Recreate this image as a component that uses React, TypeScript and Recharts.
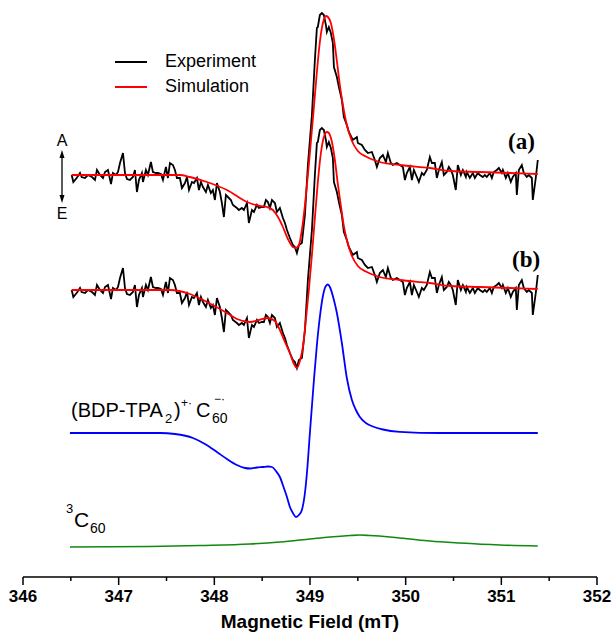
import React from "react";
import { LineChart, Line, XAxis, YAxis, Customized } from "recharts";

// [field (mT), signal relative to its own baseline]
const experiment: [number, number][] = [
  [346.509, 0], [346.526, -7], [346.561, -3], [346.596, 2], [346.613, -2], [346.648, -3],
  [346.679, 0], [346.721, -2], [346.752, -5], [346.773, 5], [346.805, 0], [346.836, -3],
  [346.857, 3], [346.888, 5], [346.92, -9], [346.94, 2], [346.972, 0], [346.993, 3],
  [347.014, 12], [347.045, 22], [347.066, 2], [347.087, -4], [347.118, -5], [347.149, -2],
  [347.17, 5], [347.191, -17], [347.212, -5], [347.243, 2], [347.254, -7], [347.285, 5],
  [347.306, 0], [347.337, 13], [347.358, 3], [347.39, 2], [347.411, 2], [347.442, 1],
  [347.463, -5], [347.494, 8], [347.515, -3], [347.536, 12], [347.567, 10], [347.588, 5],
  [347.609, -3], [347.64, -3], [347.661, -13], [347.693, -8], [347.714, -2], [347.735, -15],
  [347.766, -7], [347.787, -8], [347.818, -3], [347.839, -15], [347.86, -7], [347.881, -12],
  [347.912, -17], [347.933, -10], [347.964, -18], [347.985, -15], [348.006, -25], [348.027, -8],
  [348.058, -17], [348.079, -28], [348.1, -42], [348.121, -20], [348.142, -22], [348.173, -25],
  [348.194, -30], [348.236, -33], [348.257, -35], [348.288, -33], [348.309, -35], [348.341, -28],
  [348.361, -48], [348.393, -35], [348.414, -37], [348.445, -30], [348.466, -33], [348.497, -32],
  [348.518, -32], [348.539, -25], [348.56, -27], [348.581, -33], [348.602, -25], [348.633, -28],
  [348.654, -37], [348.685, -33], [348.717, -43], [348.738, -48], [348.759, -55], [348.79, -63],
  [348.821, -70], [348.842, -72], [348.863, -78], [348.884, -70], [348.915, -68], [348.947, -40],
  [348.978, 10], [349.02, 60], [349.051, 115], [349.072, 147], [349.082, 148], [349.103, 160],
  [349.124, 162], [349.145, 160], [349.166, 150], [349.176, 143], [349.197, 148], [349.218, 142],
  [349.239, 132], [349.25, 108], [349.281, 98], [349.302, 88], [349.333, 75], [349.354, 58],
  [349.385, 50], [349.406, 43], [349.448, 35], [349.49, 38], [349.5, 32], [349.542, 30],
  [349.574, 25], [349.605, 22], [349.647, 23], [349.678, 15], [349.699, 8], [349.73, 17],
  [349.762, 20], [349.793, 13], [349.814, 22], [349.845, 12], [349.866, 10], [349.908, 12],
  [349.939, 10], [349.971, 8], [349.992, -5], [350.012, 2], [350.044, 8], [350.065, -5],
  [350.086, 5], [350.117, -2], [350.138, -7], [350.169, 2], [350.19, 0], [350.221, 5],
  [350.253, 18], [350.274, 12], [350.305, 12], [350.326, -3], [350.347, 5], [350.378, 13],
  [350.399, 0], [350.43, 3], [350.451, 8], [350.472, 5], [350.493, 0], [350.524, -15],
  [350.545, 10], [350.577, 0], [350.598, 5], [350.629, -2], [350.639, 3], [350.671, -3],
  [350.702, 2], [350.723, -3], [350.754, 2], [350.775, 0], [350.807, -2], [350.827, 0],
  [350.848, -2], [350.88, 2], [350.901, -3], [350.921, 3], [350.953, 5], [350.974, 7],
  [351.005, 2], [351.016, 5], [351.047, -3], [351.068, 2], [351.099, -7], [351.12, -2],
  [351.151, 2], [351.162, -20], [351.183, 5], [351.214, 10], [351.235, 2], [351.266, -2],
  [351.287, 0], [351.319, -3], [351.329, -25], [351.36, -3], [351.381, 15],
];

const simulationA: [number, number][] = [
  [346.509, 0], [347.64, 0], [347.745, -2], [347.923, -7], [348.132, -15], [348.341, -27],
  [348.476, -31], [348.55, -32], [348.612, -35], [348.665, -42], [348.717, -52], [348.769, -64],
  [348.821, -72], [348.853, -73], [348.884, -70], [348.915, -55], [348.947, -30], [348.978, 0],
  [349.009, 33], [349.041, 68], [349.072, 103], [349.103, 133], [349.135, 152], [349.166, 159],
  [349.187, 158], [349.218, 152], [349.25, 136], [349.281, 114], [349.312, 90], [349.344, 70],
  [349.385, 50], [349.438, 34], [349.5, 24], [349.594, 18], [349.73, 13], [349.939, 10],
  [350.253, 7], [350.472, 4], [350.775, 3], [351.089, 2], [351.381, 1],
];

const simulationB: [number, number][] = [
  [346.509, 0], [347.536, 0], [347.745, -4], [347.923, -12], [348.132, -23], [348.236, -29],
  [348.372, -32], [348.466, -30], [348.56, -28], [348.633, -31], [348.685, -40], [348.738, -52],
  [348.79, -63], [348.832, -74], [348.863, -78], [348.894, -71], [348.926, -57], [348.957, -30],
  [348.988, 0], [349.02, 35], [349.051, 72], [349.082, 108], [349.114, 137], [349.145, 153],
  [349.176, 158], [349.197, 157], [349.229, 148], [349.26, 130], [349.291, 106], [349.323, 84],
  [349.354, 64], [349.385, 50], [349.438, 34], [349.5, 24], [349.594, 18], [349.73, 13],
  [349.939, 10], [350.253, 7], [350.472, 4], [350.775, 3], [351.089, 2], [351.381, 1],
];

const radicalPair: [number, number][] = [
  [346.491, 0], [347.432, 0], [347.588, -1], [347.776, -5], [347.902, -11], [348.027, -19],
  [348.132, -26], [348.236, -32], [348.32, -35], [348.372, -35.5], [348.445, -34.5], [348.508, -34],
  [348.56, -33.5], [348.602, -34], [348.644, -38], [348.685, -44], [348.727, -55], [348.759, -64],
  [348.79, -74], [348.821, -80], [348.853, -84], [348.884, -82], [348.915, -77], [348.947, -60],
  [348.968, -40], [348.999, 0], [349.041, 53], [349.072, 88], [349.103, 116], [349.135, 137],
  [349.166, 147], [349.187, 148.5], [349.208, 146], [349.25, 133], [349.281, 120], [349.333, 90],
  [349.385, 55], [349.438, 33], [349.48, 23], [349.521, 16], [349.584, 10], [349.657, 6.5],
  [349.762, 3.5], [349.939, 1.2], [350.357, 0], [351.381, 0],
];

const tripletC60: [number, number][] = [
  [346.491, 0], [347.327, 0.5], [347.85, 1.5], [348.372, 3], [348.685, 5], [348.999, 8],
  [349.208, 10], [349.417, 11.5], [349.521, 12], [349.626, 11.5], [349.835, 10], [350.044, 8],
  [350.253, 6], [350.566, 4], [350.984, 2], [351.381, 1],
];

// vertical offsets of the stacked traces (a.u.)
const offsetA = 402;
const offsetB = 287;
const offsetRadical = 144;
const offsetTriplet = 30;

const fieldTicks = [346, 346.5, 347, 347.5, 348, 348.5, 349, 349.5, 350, 350.5, 351, 351.5, 352];

const toPoints = (arr: [number, number][], base: number) =>
  arr.map(([f, v]) => ({ f, v: v + base }));

const sans = "'Liberation Sans', Arial, sans-serif";
const serif = "'Liberation Serif', 'Times New Roman', serif";

function FieldTick(props: any) {
  const { x, y, payload } = props;
  const major = Number.isInteger(payload.value);
  const axisY = y - 13;
  return (
    <g>
      <line x1={x} x2={x} y1={axisY} y2={axisY + (major ? 8 : 4)} stroke="#000" strokeWidth={1.5} />
      {major && (
        <text x={x} y={y} dy="0.71em" textAnchor="middle" fontFamily={sans} fontWeight="bold" fontSize={17} fill="#000">
          {payload.value}
        </text>
      )}
    </g>
  );
}

function Annotations() {
  return (
    <g>
      {/* legend */}
      <line x1={115} x2={147} y1={62} y2={62} stroke="#000" strokeWidth={2} />
      <text x={165} y={67} fontFamily={sans} fontSize={18} fill="#000">Experiment</text>
      <line x1={115} x2={147} y1={87} y2={87} stroke="#ff0000" strokeWidth={2} />
      <text x={165} y={92} fontFamily={sans} fontSize={18} fill="#000">Simulation</text>

      {/* trace labels */}
      <text x={508} y={149} fontFamily={serif} fontWeight="bold" fontSize={23} fill="#000">(a)</text>
      <text x={512} y={267} fontFamily={serif} fontWeight="bold" fontSize={23} fill="#000">(b)</text>

      {/* absorption / emission arrow */}
      <text x={62} y={146} textAnchor="middle" fontFamily={sans} fontSize={16} fill="#000">A</text>
      <line x1={62} x2={62} y1={156} y2={197} stroke="#000" strokeWidth={1.3} />
      <polygon points="62,150 59.5,158 64.5,158" fill="#000" />
      <polygon points="62,203 59.5,195 64.5,195" fill="#000" />
      <text x={62} y={219} textAnchor="middle" fontFamily={sans} fontSize={16} fill="#000">E</text>

      {/* radical pair label */}
      <text fontFamily={sans} fill="#000">
        <tspan x={71} y={417} fontSize={20}>(BDP-TPA</tspan>
        <tspan x={165} y={423} fontSize={13}>2</tspan>
        <tspan x={174} y={417} fontSize={20}>)</tspan>
        <tspan x={181} y={407} fontSize={12}>+·</tspan>
        <tspan x={196} y={417} fontSize={20}>C</tspan>
        <tspan x={212} y={423} fontSize={14}>60</tspan>
        <tspan x={214} y={403} fontSize={12}>−·</tspan>
      </text>

      {/* triplet label */}
      <text fontFamily={sans} fill="#000">
        <tspan x={66} y={513} fontSize={13}>3</tspan>
        <tspan x={74} y={527} fontSize={21}>C</tspan>
        <tspan x={90} y={533} fontSize={14}>60</tspan>
      </text>

      {/* x axis title */}
      <text x={310} y={628} textAnchor="middle" fontFamily={sans} fontWeight="bold" fontSize={19} fill="#000">
        Magnetic Field (mT)
      </text>
    </g>
  );
}

export default function App() {
  return (
    <div style={{ position: "absolute", left: 0, top: 0, background: "#fff" }}>
      <LineChart width={615} height={633} margin={{ top: 10, right: 18, bottom: 0, left: 23 }}>
        <XAxis
          type="number"
          dataKey="f"
          domain={[346, 352]}
          ticks={fieldTicks}
          interval={0}
          height={56}
          tickSize={8}
          tickMargin={5}
          tickLine={false}
          axisLine={{ stroke: "#000", strokeWidth: 1.5 }}
          tick={<FieldTick />}
        />
        <YAxis type="number" domain={[0, 567]} hide />
        <Line data={toPoints(experiment, offsetA)} dataKey="v" type="linear" stroke="#000" strokeWidth={1.8} dot={false} isAnimationActive={false} />
        <Line data={toPoints(simulationA, offsetA)} dataKey="v" type="monotone" stroke="#ff0000" strokeWidth={1.8} dot={false} isAnimationActive={false} />
        <Line data={toPoints(experiment, offsetB)} dataKey="v" type="linear" stroke="#000" strokeWidth={1.8} dot={false} isAnimationActive={false} />
        <Line data={toPoints(simulationB, offsetB)} dataKey="v" type="monotone" stroke="#ff0000" strokeWidth={1.8} dot={false} isAnimationActive={false} />
        <Line data={toPoints(radicalPair, offsetRadical)} dataKey="v" type="monotone" stroke="#0000ff" strokeWidth={1.8} dot={false} isAnimationActive={false} />
        <Line data={toPoints(tripletC60, offsetTriplet)} dataKey="v" type="monotone" stroke="#118811" strokeWidth={1.6} dot={false} isAnimationActive={false} />
        <Customized component={Annotations} />
      </LineChart>
    </div>
  );
}
